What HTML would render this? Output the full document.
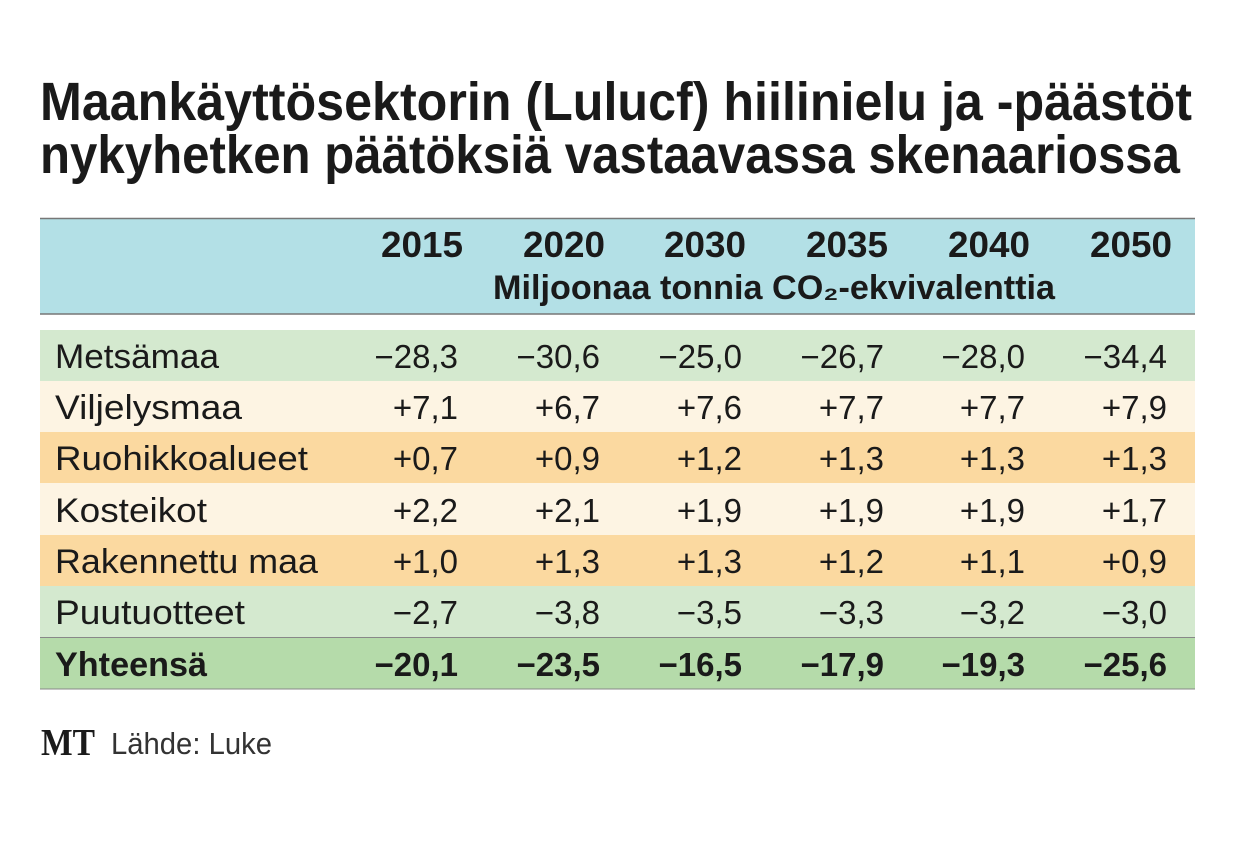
<!DOCTYPE html>
<html><head><meta charset="utf-8"><style>
html,body{margin:0;padding:0;background:#fff;}
svg{display:block;font-family:"Liberation Sans",sans-serif;}
</style></head><body>
<svg width="1240" height="854" viewBox="0 0 1240 854" xmlns="http://www.w3.org/2000/svg">
<rect width="1240" height="854" fill="#fff"/>
<g font-weight="bold" fill="#1a1a1a" font-size="54">
<text x="40" y="120" textLength="1152" lengthAdjust="spacingAndGlyphs">Maankäyttösektorin (Lulucf) hiilinielu ja -päästöt</text>
<text x="40" y="173" textLength="1140" lengthAdjust="spacingAndGlyphs">nykyhetken päätöksiä vastaavassa skenaariossa</text>
</g>
<rect x="40" y="218" width="1155" height="96" fill="#b3e0e6"/>
<line x1="40" y1="218.5" x2="1195" y2="218.5" stroke="#777" stroke-width="1.5"/>
<line x1="40" y1="314" x2="1195" y2="314" stroke="#777" stroke-width="1.5"/>
<g font-weight="bold" fill="#1a1a1a" font-size="36" text-anchor="end">
<text x="463" y="257" textLength="82" lengthAdjust="spacingAndGlyphs">2015</text>
<text x="605" y="257" textLength="82" lengthAdjust="spacingAndGlyphs">2020</text>
<text x="746" y="257" textLength="82" lengthAdjust="spacingAndGlyphs">2030</text>
<text x="888" y="257" textLength="82" lengthAdjust="spacingAndGlyphs">2035</text>
<text x="1030" y="257" textLength="82" lengthAdjust="spacingAndGlyphs">2040</text>
<text x="1172" y="257" textLength="82" lengthAdjust="spacingAndGlyphs">2050</text>
</g>
<text x="493" y="299" font-size="34" font-weight="bold" fill="#1a1a1a" textLength="562" lengthAdjust="spacingAndGlyphs">Miljoonaa tonnia CO₂-ekvivalenttia</text>
<rect x="40" y="330" width="1155" height="51" fill="#d4e9cf"/>
<rect x="40" y="381" width="1155" height="51" fill="#fdf4e3"/>
<rect x="40" y="432" width="1155" height="51" fill="#fbd9a0"/>
<rect x="40" y="483" width="1155" height="52" fill="#fdf4e3"/>
<rect x="40" y="535" width="1155" height="51" fill="#fbd9a0"/>
<rect x="40" y="586" width="1155" height="51" fill="#d4e9cf"/>
<rect x="40" y="637" width="1155" height="52" fill="#b5dbaa"/>
<line x1="40" y1="637.5" x2="1195" y2="637.5" stroke="#888" stroke-width="1"/>
<line x1="40" y1="689" x2="1195" y2="689" stroke="#888" stroke-width="1"/>
<g font-size="34" fill="#1a1a1a">
<text x="55" y="368" textLength="164" lengthAdjust="spacingAndGlyphs">Metsämaa</text>
<text x="55" y="419" textLength="187" lengthAdjust="spacingAndGlyphs">Viljelysmaa</text>
<text x="55" y="470" textLength="253" lengthAdjust="spacingAndGlyphs">Ruohikkoalueet</text>
<text x="55" y="522" textLength="152" lengthAdjust="spacingAndGlyphs">Kosteikot</text>
<text x="55" y="573" textLength="263" lengthAdjust="spacingAndGlyphs">Rakennettu maa</text>
<text x="55" y="624" textLength="190" lengthAdjust="spacingAndGlyphs">Puutuotteet</text>
<text x="55" y="676" font-weight="bold" textLength="152" lengthAdjust="spacingAndGlyphs">Yhteensä</text>
</g>
<g font-size="33" fill="#1a1a1a" text-anchor="end">
<g>
<text x="458" y="368">−28,3</text><text x="600" y="368">−30,6</text><text x="742" y="368">−25,0</text><text x="884" y="368">−26,7</text><text x="1025" y="368">−28,0</text><text x="1167" y="368">−34,4</text>
<text x="458" y="419">+7,1</text><text x="600" y="419">+6,7</text><text x="742" y="419">+7,6</text><text x="884" y="419">+7,7</text><text x="1025" y="419">+7,7</text><text x="1167" y="419">+7,9</text>
<text x="458" y="470">+0,7</text><text x="600" y="470">+0,9</text><text x="742" y="470">+1,2</text><text x="884" y="470">+1,3</text><text x="1025" y="470">+1,3</text><text x="1167" y="470">+1,3</text>
<text x="458" y="522">+2,2</text><text x="600" y="522">+2,1</text><text x="742" y="522">+1,9</text><text x="884" y="522">+1,9</text><text x="1025" y="522">+1,9</text><text x="1167" y="522">+1,7</text>
<text x="458" y="573">+1,0</text><text x="600" y="573">+1,3</text><text x="742" y="573">+1,3</text><text x="884" y="573">+1,2</text><text x="1025" y="573">+1,1</text><text x="1167" y="573">+0,9</text>
<text x="458" y="624">−2,7</text><text x="600" y="624">−3,8</text><text x="742" y="624">−3,5</text><text x="884" y="624">−3,3</text><text x="1025" y="624">−3,2</text><text x="1167" y="624">−3,0</text>
</g>
<g font-weight="bold">
<text x="458" y="676">−20,1</text><text x="600" y="676">−23,5</text><text x="742" y="676">−16,5</text><text x="884" y="676">−17,9</text><text x="1025" y="676">−19,3</text><text x="1167" y="676">−25,6</text>
</g>
</g>
<text x="41" y="755" font-family="Liberation Serif,serif" font-weight="bold" font-size="38" fill="#1a1a1a" textLength="54" lengthAdjust="spacingAndGlyphs">MT</text>
<text x="111" y="754" font-size="31" fill="#333" textLength="161" lengthAdjust="spacingAndGlyphs">Lähde: Luke</text>
</svg>
</body></html>
